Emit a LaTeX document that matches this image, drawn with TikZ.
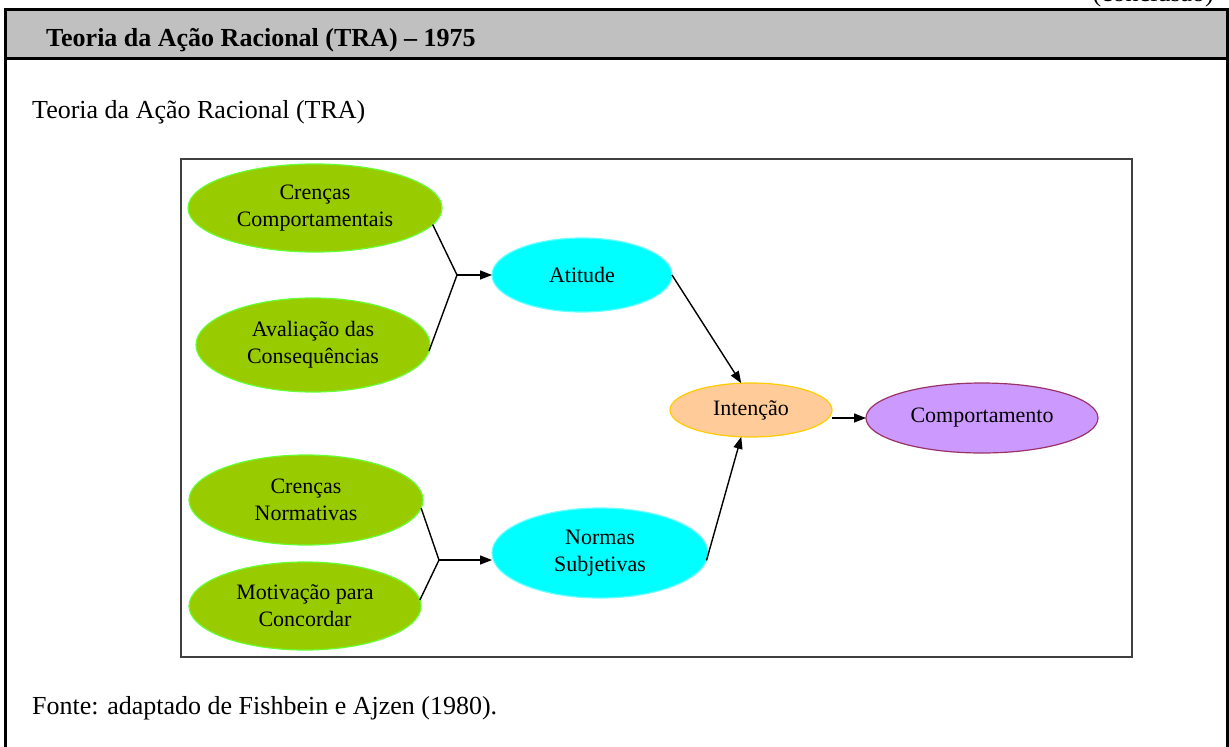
\documentclass[tikz,border=0pt]{standalone}
\usepackage{fontspec}
\setmainfont{Liberation Serif}
\usepackage{xcolor}
\usetikzlibrary{arrows.meta,shapes.geometric}

\definecolor{oliveGreen}{HTML}{99CC00}
\definecolor{limeEdge}{HTML}{66FF33}
\definecolor{aquaFill}{HTML}{00FFFF}
\definecolor{aquaEdge}{HTML}{66FFFF}
\definecolor{peachFill}{HTML}{FFCC99}
\definecolor{goldEdge}{HTML}{FFCC00}
\definecolor{lilacFill}{HTML}{CC99FF}
\definecolor{plumEdge}{HTML}{993366}
\definecolor{headGray}{HTML}{C0C0C0}
\definecolor{frameGray}{HTML}{404040}

\begin{document}
\begin{tikzpicture}[
    x=1pt, y=-1pt,
    blob/.style={ellipse, draw, line width=1.2pt, inner sep=0pt, outer sep=0pt, align=center, font=\fontsize{22}{27}\selectfont},
    belief/.style={blob, fill=oliveGreen, draw=limeEdge},
    construct/.style={blob, fill=aquaFill, draw=aquaEdge},
    arrow/.style={-{Triangle[length=12pt,width=9pt]}, line width=1.4pt},
    link/.style={line width=1.4pt},
    frame/.style={line width=3pt},
    txt/.style={anchor=base west, inner sep=0pt, font=\fontsize{26}{30}\selectfont}
]
\useasboundingbox (0,0) rectangle (1229,747);

% outer table
\fill[headGray] (5,9) rectangle (1227,58);
\draw[frame] (5,747) -- (5,9) -- (1227,9) -- (1227,747);
\draw[frame] (5,58) -- (1227,58);

\node[txt, font=\bfseries\fontsize{26}{30}\selectfont] (title) at (46,46) {Teoria da Ação Racional (TRA) – 1975};
\node[txt, anchor=base east] (cont) at (1214,1) {(conclusão)};
\node[txt] (caption) at (32,118) {Teoria da Ação Racional (TRA)};
\node[txt] (source) at (32,714) {Fonte: adaptado de Fishbein e Ajzen (1980).};

% model
\draw[line width=2pt, frameGray] (181,159) rectangle (1132,657);

\node[belief, minimum width=254pt, minimum height=88pt] (cc) at (315,208) {Crenças\\Comportamentais};
\node[belief, minimum width=234pt, minimum height=94pt] (ac) at (313,345) {Avaliação das\\Consequências};
\node[belief, minimum width=234pt, minimum height=90pt] (cn) at (306,500) {Crenças\\Normativas};
\node[belief, minimum width=232pt, minimum height=88pt] (mc) at (305,606) {Motivação para\\Concordar};

\node[construct, minimum width=180pt, minimum height=74pt] (at) at (582,275) {Atitude};
\node[construct, minimum width=216pt, minimum height=90pt] (ns) at (600,553) {Normas\\Subjetivas};

\node[blob, fill=peachFill, draw=goldEdge, minimum width=162pt, minimum height=54pt] (int) at (751,410) {Intenção};
\node[blob, fill=lilacFill, draw=plumEdge, minimum width=232pt, minimum height=70pt] (comp) at (982,418) {Comportamento};

\coordinate (jA) at (457,275);
\coordinate (jB) at (439,560);

\draw[link] (cc.-8) -- (jA) -- (ac.-3);
\draw[arrow] (jA) -- (at.west);
\draw[link] (cn.-4) -- (jB) -- (mc.3);
\draw[arrow] (jB) -- (jB -| ns.west);

\draw[arrow] (at.east) -- (int.110);
\draw[arrow] (ns.-4) -- (int.-110);
\draw[arrow] ([yshift=-8pt]int.east) -- (comp.west);

\end{tikzpicture}
\end{document}
